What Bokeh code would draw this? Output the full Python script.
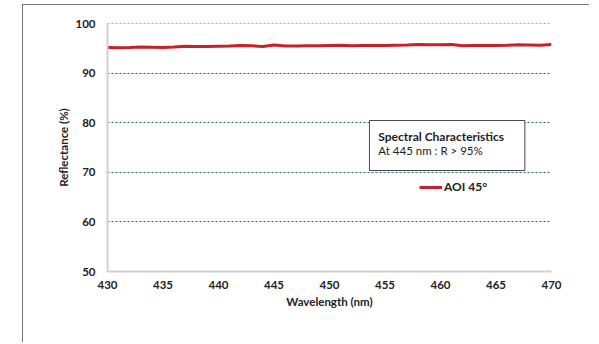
from bokeh.plotting import figure
from bokeh.models import Range1d, FixedTicker, BoxAnnotation, Label, Legend, LegendItem, Span
from bokeh.embed import file_html
from bokeh.resources import INLINE

wavelength = [430, 431, 432, 433, 434, 435, 436, 437, 438, 439, 440,
              441, 442, 443, 444, 445, 446, 447, 448, 449, 450,
              451, 452, 453, 454, 455, 456, 457, 458, 459, 460,
              461, 462, 463, 464, 465, 466, 467, 468, 469, 470]
reflectance = [95.15, 95.12, 95.15, 95.25, 95.22, 95.18, 95.25, 95.42, 95.35, 95.35, 95.40,
               95.45, 95.55, 95.50, 95.35, 95.65, 95.45, 95.45, 95.50, 95.50, 95.55,
               95.60, 95.50, 95.55, 95.55, 95.55, 95.60, 95.65, 95.75, 95.70, 95.70,
               95.75, 95.50, 95.55, 95.55, 95.55, 95.60, 95.70, 95.65, 95.60, 95.75]
x_ticks = [430, 435, 440, 445, 450, 455, 460, 465, 470]
y_ticks = [50, 60, 70, 80, 90, 100]
grid_ticks = [60, 70, 80, 90]
top_grid = 100
series_name = "AOI 45°"
box_title = "Spectral Characteristics"
box_text = "At 445 nm : R > 95%"

FONT = "Lato"
W, H = 567, 338
GRID_COLOR = "#2e5a8a"

p = figure(width=W, height=H, output_backend="svg", toolbar_location=None,
           x_range=Range1d(430, 470), y_range=Range1d(50, 100),
           min_border_left=85, min_border_right=38, min_border_top=19, min_border_bottom=71)
p.margin = (4, 0, 0, 22)
p.styles = {"outline": "2px solid #4a4a4a", "outline-offset": "-2px"}
p.background_fill_color = "white"
p.border_fill_color = "white"
p.outline_line_color = None

# axes
for ax in (p.xaxis[0], p.yaxis[0]):
    ax.axis_line_color = "#d0d0d0"
    ax.axis_line_width = 2
    ax.major_tick_line_color = None
    ax.minor_tick_line_color = None
    ax.major_label_text_font = FONT
    ax.major_label_text_font_style = "bold"
    ax.major_label_text_font_size = "11.5px"
    ax.major_label_text_color = "#222222"
    ax.axis_label_text_font = FONT
    ax.axis_label_text_font_style = "bold"
    ax.axis_label_text_font_size = "11.5px"
    ax.axis_label_text_color = "#222222"
p.xaxis.ticker = FixedTicker(ticks=x_ticks)
p.yaxis.ticker = FixedTicker(ticks=y_ticks)
p.xaxis.major_label_standoff = 3
p.yaxis.major_label_standoff = 6
p.xaxis.axis_label = "Wavelength (nm)"
p.yaxis.axis_label = "Reflectance (%)"
p.xaxis.axis_label_standoff = 3
p.yaxis.axis_label_standoff = 2

# grid
p.xgrid.grid_line_color = None
p.ygrid.ticker = FixedTicker(ticks=grid_ticks)
p.ygrid.grid_line_color = GRID_COLOR
p.ygrid.grid_line_dash = "2 2"
p.ygrid.grid_line_width = 1
p.add_layout(Span(location=top_grid, dimension="width", line_color=GRID_COLOR,
                  line_dash="2 2", line_width=1, level="underlay"))

# data line
r = p.line(wavelength, reflectance, line_color="#c8202a", line_width=3)

# info box
p.add_layout(BoxAnnotation(left=453.6, right=467.6, top=80.44, bottom=70.36,
                           fill_color="white", fill_alpha=1.0,
                           line_color="#4a4a4a", line_alpha=1.0, line_width=1))
p.add_layout(Label(x=454.4, y=77.22, text=box_title, text_font=FONT,
                   text_font_style="bold", text_font_size="12px",
                   text_color="#222222", text_baseline="alphabetic"))
p.add_layout(Label(x=454.4, y=74.4, text=box_text, text_font=FONT,
                   text_font_size="11.5px",
                   text_color="#222222", text_baseline="alphabetic"))

legend = Legend(items=[LegendItem(label=series_name, renderers=[r])],
                location=(312, 77), orientation="vertical",
                glyph_width=23, glyph_height=12, label_height=12,
                label_standoff=2, padding=0, margin=0, spacing=0,
                border_line_color=None, background_fill_alpha=0,
                label_text_font=FONT, label_text_font_style="bold",
                label_text_font_size="12px", label_text_color="#222222")
p.add_layout(legend)

open("out.html", "w").write(file_html(p, INLINE))
